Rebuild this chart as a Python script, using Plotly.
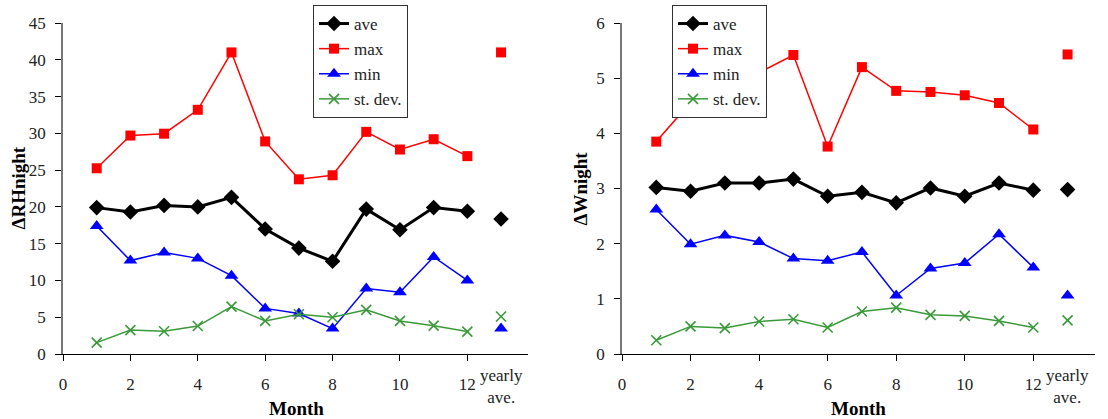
import plotly.graph_objects as go
from plotly.subplots import make_subplots

months = list(range(1, 13))
yearly_x = 13

# Left: ΔRHnight
rh_ave = [19.9, 19.3, 20.2, 20.0, 21.3, 17.0, 14.4, 12.6, 19.7, 16.9, 19.9, 19.4]
rh_max = [25.25, 29.7, 29.95, 33.2, 41.0, 28.9, 23.75, 24.3, 30.2, 27.8, 29.2, 26.9]
rh_min = [17.4, 12.7, 13.8, 13.0, 10.65, 6.2, 5.5, 3.45, 8.9, 8.4, 13.2, 10.0]
rh_std = [1.55, 3.25, 3.1, 3.8, 6.45, 4.5, 5.4, 5.0, 6.0, 4.5, 3.85, 3.05]
rh_yearly = {"ave": 18.35, "max": 41.0, "min": 3.45, "std": 5.1}

# Right: ΔWnight
w_ave = [3.02, 2.95, 3.10, 3.10, 3.17, 2.86, 2.93, 2.74, 3.01, 2.86, 3.10, 2.97]
w_max = [3.85, 4.56, 4.85, 5.10, 5.42, 3.76, 5.20, 4.77, 4.75, 4.69, 4.55, 4.07]
w_min = [2.62, 1.99, 2.15, 2.03, 1.73, 1.69, 1.85, 1.06, 1.55, 1.65, 2.17, 1.57]
w_std = [0.25, 0.50, 0.47, 0.59, 0.63, 0.48, 0.77, 0.84, 0.71, 0.69, 0.60, 0.48]
w_yearly = {"ave": 2.98, "max": 5.43, "min": 1.06, "std": 0.61}

x_ticks = [0, 2, 4, 6, 8, 10, 12]
SERIF = "Liberation Serif, Times New Roman, serif"
GREEN = "#3a9a3a"

styles = {
    "ave": dict(name="ave", color="black", width=3, symbol="diamond", size=12),
    "max": dict(name="max", color="#ff0000", width=1.5, symbol="square", size=10),
    "min": dict(name="min", color="#0000ff", width=1.5, symbol="triangle-up", size=12),
    "std": dict(name="st. dev.", color=GREEN, width=1.5, symbol="x-thin-open", size=10),
}

fig = make_subplots(rows=1, cols=2, horizontal_spacing=0.09)

def add_panel(col, series, yearly, legend):
    for key, ys in series.items():
        s = styles[key]
        mk = dict(symbol=s["symbol"], size=s["size"], color=s["color"])
        if key == "std":
            mk["line"] = dict(color=s["color"], width=1.6)
        fig.add_trace(go.Scatter(
            x=months, y=ys, mode="lines+markers", name=s["name"],
            line=dict(color=s["color"], width=s["width"]),
            marker=mk, legend=legend, showlegend=True,
        ), row=1, col=col)
    for key in ["ave", "max", "min", "std"]:
        s = styles[key]
        mk = dict(symbol=s["symbol"], size=s["size"], color=s["color"])
        if key == "std":
            mk["line"] = dict(color=s["color"], width=1.6)
        fig.add_trace(go.Scatter(
            x=[yearly_x], y=[yearly[key]], mode="markers", marker=mk,
            showlegend=False, legend=legend,
        ), row=1, col=col)

add_panel(1, {"ave": rh_ave, "max": rh_max, "min": rh_min, "std": rh_std}, rh_yearly, "legend")
add_panel(2, {"ave": w_ave, "max": w_max, "min": w_min, "std": w_std}, w_yearly, "legend2")

W, H = 1108, 419
ml, mr, mt, mb = 63, 13, 23, 65
pw = W - ml - mr
ph = H - mt - mb
left_dom = [0, (528 - ml) / pw]
right_dom = [(622 - ml) / pw, 1.0]

axis_font = dict(family=SERIF, size=17, color="#222")
xcommon = dict(range=[0, 13.8], tickvals=x_ticks, showgrid=False, zeroline=False,
               showline=True, linecolor="black", linewidth=1.2,
               ticks="outside", ticklen=6, tickcolor="black", tickwidth=1,
               tickfont=axis_font, ticklabelstandoff=8)
ycommon = dict(showgrid=False, zeroline=False, showline=True, linecolor="#777",
               linewidth=1.5, ticks="outside", ticklen=6, tickcolor="black",
               tickwidth=1, tickfont=axis_font, ticklabelstandoff=6)

leg_common = dict(xanchor="left", yanchor="top", bgcolor="white", bordercolor="#333",
                  borderwidth=1, font=dict(family=SERIF, size=17, color="#222"),
                  tracegroupgap=0, itemwidth=30)

fig.update_layout(
    width=W, height=H, margin=dict(l=ml, r=mr, t=mt, b=mb, autoexpand=False),
    paper_bgcolor="white", plot_bgcolor="white",
    font=dict(family=SERIF, size=17, color="#222"),
    xaxis=dict(domain=left_dom, **xcommon),
    xaxis2=dict(domain=right_dom, **xcommon),
    yaxis=dict(range=[0, 45], tickvals=[0, 5, 10, 15, 20, 25, 30, 35, 40, 45], **ycommon),
    yaxis2=dict(range=[0, 6], tickvals=[0, 1, 2, 3, 4, 5, 6], **ycommon),
    legend=dict(x=(313 - ml) / pw, y=1 + (mt - 5) / ph, **leg_common),
    legend2=dict(x=(672 - ml) / pw, y=1 + (mt - 5) / ph, **leg_common),
    showlegend=True,
)

title_font = dict(family=SERIF, size=19, color="black")
ann = []
for cx, label in [(296, "Month"), (858, "Month")]:
    ann.append(dict(text="<b>" + label + "</b>", xref="paper", yref="paper",
                    x=(cx - ml) / pw, y=-(408 - (H - mb)) / ph,
                    xanchor="center", yanchor="middle", showarrow=False, font=title_font))
for cx, label in [(18, "ΔRHnight"), (580, "ΔWnight")]:
    ann.append(dict(text="<b>" + label + "</b>", xref="paper", yref="paper",
                    x=(cx - ml) / pw, y=0.5, xanchor="center", yanchor="middle",
                    textangle=-90, showarrow=False, font=title_font))
for xr in ["x", "x2"]:
    ann.append(dict(text="yearly<br>ave.", xref=xr, yref="paper", x=yearly_x,
                    y=-(386 - (H - mb)) / ph, xanchor="center", yanchor="middle",
                    showarrow=False, font=dict(family=SERIF, size=17, color="#222")))
fig.update_layout(annotations=ann)

fig.write_html("out.html", config={"displayModeBar": False},
               post_script="document.body.style.margin='0';")
